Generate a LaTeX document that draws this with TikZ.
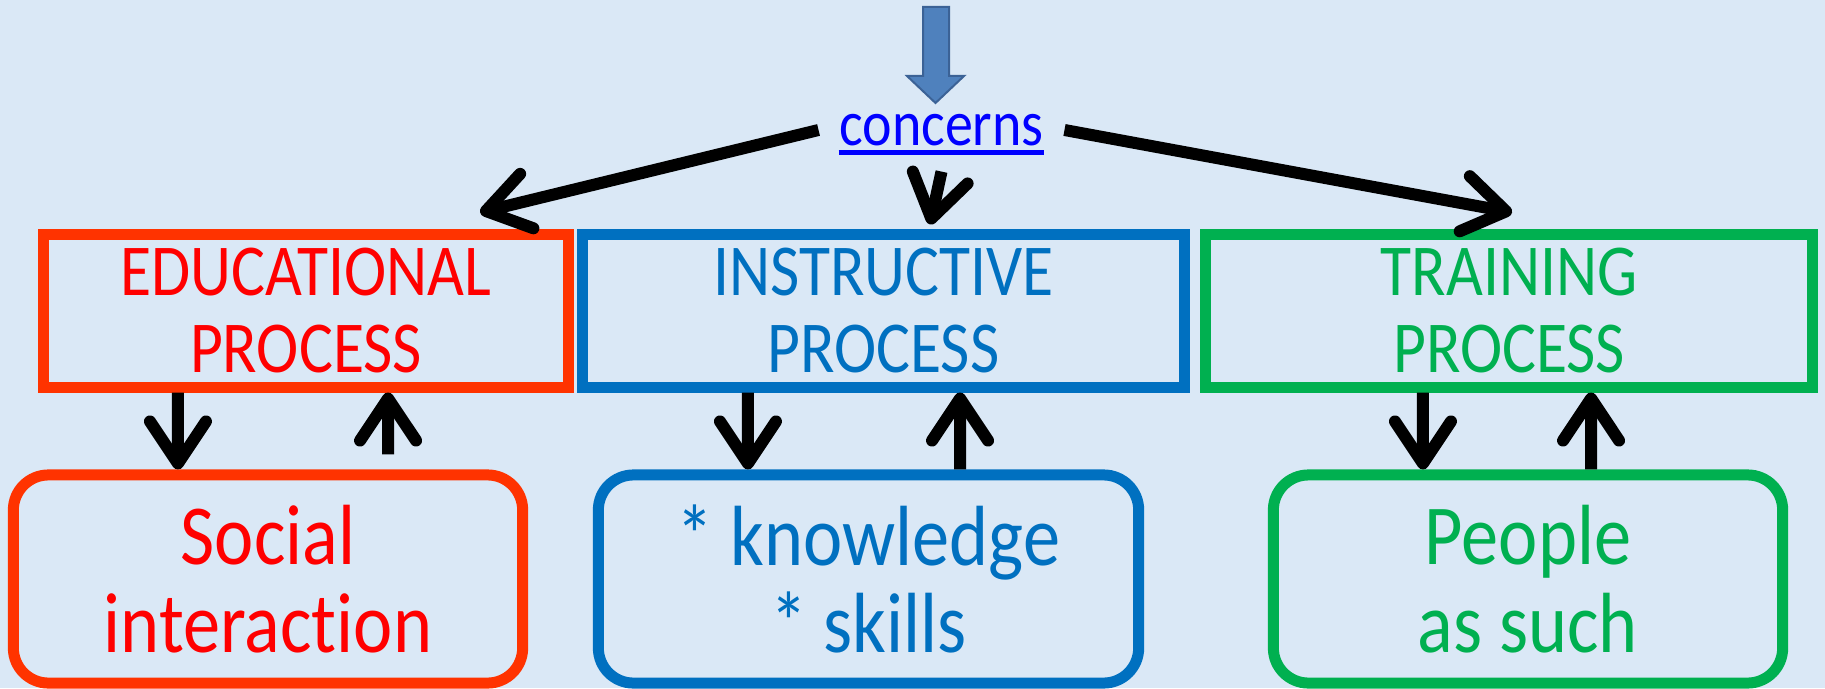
\documentclass[tikz,border=0pt]{standalone}
\usepackage{fontspec}
\setmainfont{Carlito}[FakeStretch=0.87, Ligatures=NoCommon]
\usetikzlibrary{arrows.meta}
\definecolor{bgblue}{HTML}{DAE8F6}
\definecolor{edured}{HTML}{FF3300}
\definecolor{insblue}{HTML}{0070C0}
\definecolor{tragreen}{HTML}{00B050}
\definecolor{arrowfill}{HTML}{4F81BD}
\definecolor{arrowline}{HTML}{3B6296}
\tikzset{procbox/.style={draw, line width=0.11cm, minimum height=1.52cm,
      inner sep=0pt, align=center, font=\fontsize{20.8pt}{21.9pt}\selectfont}}
\tikzset{aimbox/.style={draw, line width=0.11cm, rounded corners=0.35cm,
      minimum height=2.08cm, inner sep=0pt, align=center,
      font=\fontsize{24.3pt}{25pt}\selectfont}}
\tikzset{barb/.style={-{Straight Barb[length=0.42cm,width=0.56cm,round]},
      line width=0.12cm}}

\begin{document}
\begin{tikzpicture}[x=0.01cm,y=-0.01cm]
    \fill[bgblue] (0,0) rectangle (1825,688);
    \useasboundingbox (0,0) rectangle (1825,688);
    % the three processes
    \node[procbox, edured, text=red, minimum width=5.25cm] (edu) at (306,311) {EDUCATIONAL\\PROCESS};
    \node[procbox, insblue, minimum width=6.02cm] (ins) at (883.5,311) {INSTRUCTIVE\\PROCESS};
    \node[procbox, tragreen, minimum width=6.07cm] (tra) at (1509,311) {TRAINING\\PROCESS};
    \node[aimbox, edured, text=red, minimum width=5.09cm] (soc) at (268,579) {Social\\interaction};
    \node[aimbox, insblue, minimum width=5.40cm] (kno) at (868.5,579) {* knowledge\\* skills};
    \node[aimbox, tragreen, minimum width=5.09cm] (peo) at (1528,579) {People\\as such};
    % top
    \node[text=blue, inner xsep=0.2cm, inner ysep=0.1cm, font=\fontsize{18.3pt}{20pt}\selectfont] (con) at (941.5,130) {concerns};
    \draw[blue, line width=0.05cm] ([shift={(0.2cm,-0.07cm)}]con.base west) -- ([shift={(-0.2cm,-0.07cm)}]con.base east);
    \draw[arrowline, fill=arrowfill, line width=0.02cm] (923,7) -- (949,7) -- (949,76) -- (964,76)
      -- (935.5,103) -- (907,76) -- (923,76) -- cycle;
    \draw[barb] (con.west) -- ([shift={(1.74cm,0.17cm)}]edu.north);
    \draw[barb] ([yshift=-0.15cm]con.south) -- ([shift={(0.465cm,0.05cm)}]ins.north);
    \draw[barb] (con.east) -- ([shift={(0.03cm,0.17cm)}]tra.north);
    % down and up
    \draw[barb] ([xshift=-1.28cm]edu.south) -- ([xshift=-0.90cm]soc.north);
    \draw[barb] ([shift={(1.20cm,0.15cm)}]soc.north) -- ([xshift=0.82cm]edu.south);
    \draw[barb] ([xshift=-1.355cm]ins.south) -- ([xshift=-1.205cm]kno.north);
    \draw[barb] ([xshift=0.915cm]kno.north) -- ([xshift=0.765cm]ins.south);
    \draw[barb] ([xshift=-0.86cm]tra.south) -- ([xshift=-1.05cm]peo.north);
    \draw[barb] ([xshift=0.63cm]peo.north) -- ([xshift=0.82cm]tra.south);
\end{tikzpicture}
\end{document}
